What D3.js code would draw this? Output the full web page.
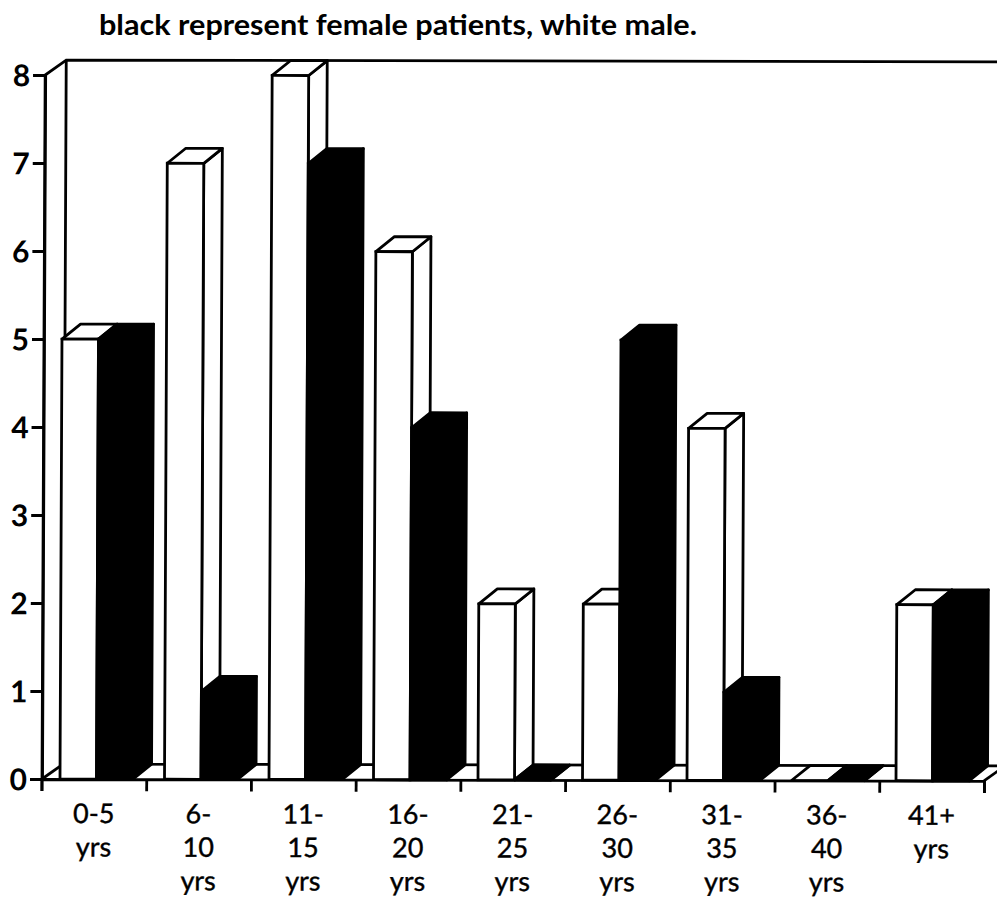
<!DOCTYPE html>
<html>
<head>
<meta charset="utf-8">
<script src="https://d3js.org/d3.v7.min.js"></script>
<style>
html,body{margin:0;padding:0;background:#fff;}
svg{display:block;}
text{font-family:Lato,"Open Sans",sans-serif;fill:#000;}
</style>
</head>
<body>
<svg id="chart" width="997" height="900"></svg>
<script>
const titleText = "black represent female patients, white male.";
const categories = ["0-5","6-10","11-15","16-20","21-25","26-30","31-35","36-40","41+"];
const categoryLabels = [["0-5","yrs"],["6-","10","yrs"],["11-","15","yrs"],["16-","20","yrs"],["21-","25","yrs"],["26-","30","yrs"],["31-","35","yrs"],["36-","40","yrs"],["41+","yrs"]];
const maleValues = [5,7,8,6,2,2,4,0,2];
const femaleValues = [5,1,7,4,0,5,1,0,2];
const yTicks = [0,1,2,3,4,5,6,7,8];

const svg = d3.select("#chart");
const y = d3.scaleLinear().domain([0,8]).range([779,75]);
const xBand = d3.scaleBand().domain(categories).range([41.5,984]);
const xBar = d3.scalePoint().domain(categories).range([60,896]);
const barW = 36.5, dx = 18.5, dy = 15;
const wallDx = 21, wallDy = 15;
const left = 42, sw = 2.8;

svg.append("text").attr("x",99).attr("y",35)
  .attr("font-size",28).attr("font-weight",700)
  .attr("textLength",598).attr("lengthAdjust","spacingAndGlyphs")
  .text(titleText);

// the scanned page sits slightly rotated
const sx = 0.0045, sy = 0.002;
const plot = svg.append("g")
  .attr("transform",`matrix(1,${sy},${-sx},1,${sx*779},${-sy*42})`);

// walls
const frame = plot.append("g").attr("fill","none").attr("stroke","#000").attr("stroke-width",sw);
const line = d3.line();
frame.append("path").attr("d",line([[left,y(0)],[left,y(8)],[left+wallDx,y(8)-wallDy],[1010,y(8)-wallDy]]));
frame.append("path").attr("d",line([[left+wallDx,y(8)-wallDy],[left+wallDx,y(0)-wallDy],[1010,y(0)-wallDy]]));
frame.append("path").attr("d",line([[left,y(0)],[left+wallDx,y(0)-wallDy]]));
frame.append("path").attr("d",line([[984,y(0)],[984+wallDx,y(0)-wallDy]]));

function bar(g,x0,v,fill){
  const top = y(v), base = y(0);
  const stroke = "#000";
  g.append("path").attr("fill",fill).attr("stroke",stroke).attr("stroke-width",sw).attr("stroke-linejoin","round")
    .attr("d",line([[x0+barW,base],[x0+barW+dx,base-dy],[x0+barW+dx,top-dy],[x0+barW,top]])+"Z");
  g.append("path").attr("fill",fill).attr("stroke",stroke).attr("stroke-width",sw).attr("stroke-linejoin","round")
    .attr("d",line([[x0,top],[x0+dx,top-dy],[x0+barW+dx,top-dy],[x0+barW,top]])+"Z");
  g.append("rect").attr("x",x0).attr("y",top).attr("width",barW).attr("height",base-top)
    .attr("fill",fill).attr("stroke",stroke).attr("stroke-width",sw);
}
const bars = plot.append("g");
categories.forEach((c,i)=>{
  const g = bars.append("g");
  bar(g,xBar(c),maleValues[i],"#fff");
  bar(g,xBar(c)+barW,femaleValues[i],"#000");
});

// baseline and axes
const yAxis = plot.append("g").attr("transform",`translate(${left},0)`)
  .call(d3.axisLeft(y).tickValues(yTicks).tickSize(12).tickPadding(3).tickFormat(d3.format("d")));
yAxis.select(".domain").attr("stroke-width",sw);
yAxis.selectAll(".tick line").attr("stroke-width",sw);
yAxis.selectAll(".tick text").attr("font-size",30).attr("font-weight",700)
  .style("font-family","Lato,sans-serif").attr("dy","0.36em");

const xTicksAxis = plot.append("g").attr("transform",`translate(0,${y(0)})`)
  .call(d3.axisBottom(d3.scaleLinear().domain([0,categories.length]).range(xBand.range()))
    .ticks(categories.length).tickSize(12).tickFormat(""));
xTicksAxis.select(".domain").attr("stroke-width",sw);
xTicksAxis.selectAll(".tick line").attr("stroke-width",sw);

const xLabels = plot.append("g").attr("transform",`translate(0,${y(0)})`)
  .call(d3.axisBottom(xBand).tickSize(0).tickFormat(""));
xLabels.select(".domain").remove();
xLabels.selectAll(".tick").each(function(d,i){
  const t = d3.select(this).append("text").attr("text-anchor","middle").attr("font-size",27)
    .attr("stroke","#000").attr("stroke-width",0.4);
  categoryLabels[i].forEach((s,k)=>{
    t.append("tspan").attr("x",0).attr("y",44+k*33.5).text(s);
  });
});
</script>
</body>
</html>
